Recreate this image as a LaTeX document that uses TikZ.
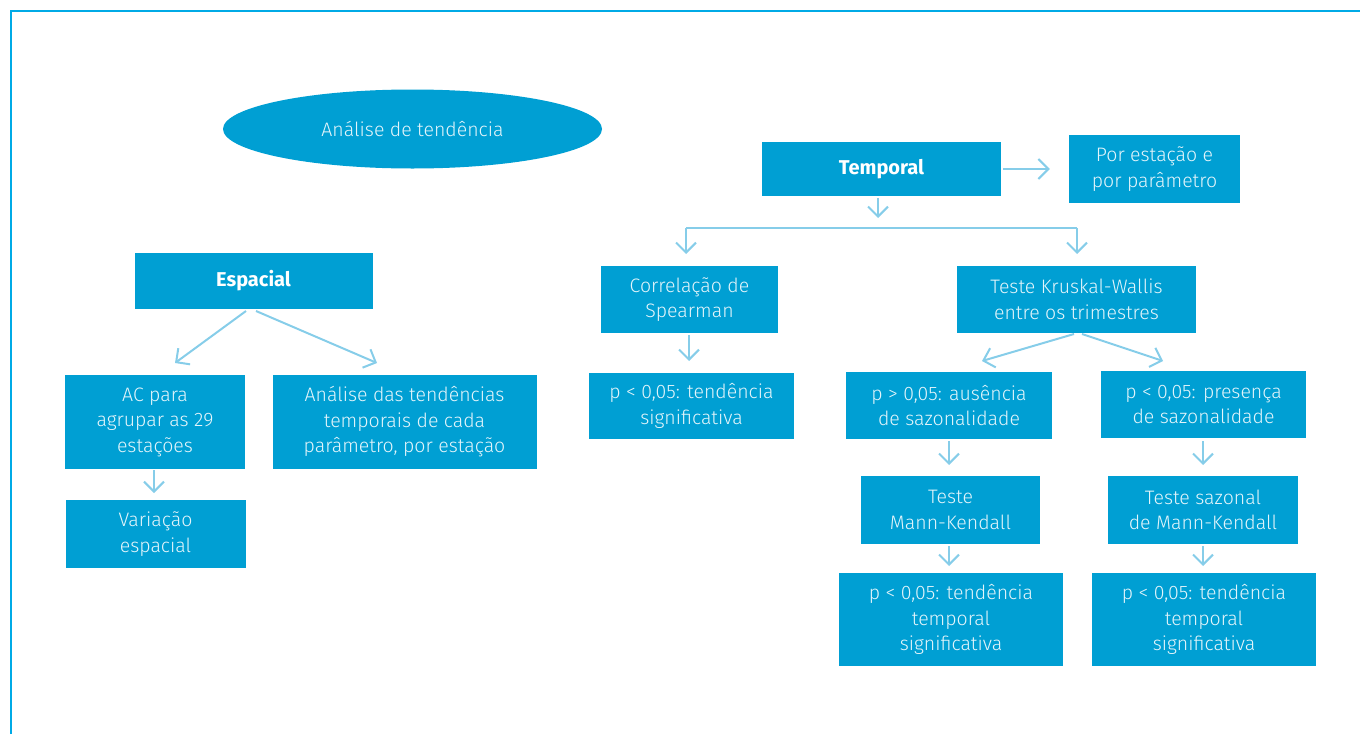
\documentclass[tikz,border=0pt]{standalone}
\usepackage{fontspec}
\setmainfont{Fira Sans}[UprightFont=* Light, BoldFont=* Bold]
\usetikzlibrary{arrows.meta,shapes.geometric}
\definecolor{boxblue}{HTML}{009FD3}
\definecolor{txtc}{HTML}{E4F5FB}
\definecolor{arrowblue}{HTML}{86CDE9}
\definecolor{framec}{HTML}{00AAE6}
\newcommand{\bxfont}{\fontsize{19.5pt}{25.5pt}\selectfont}
\newcommand{\bdfont}{\fontsize{20pt}{25.5pt}\selectfont\bfseries}
\tikzset{
  box/.style={fill=boxblue, text=txtc, align=center, inner sep=0pt, font=\bxfont, draw=none},
  boldbox/.style={box, text=white, font=\bdfont},
  conn/.style={draw=arrowblue, line width=2pt, -{Straight Barb[length=10pt,width=20pt]}},
  plain/.style={draw=arrowblue, line width=2pt},
  frameline/.style={draw=framec, line width=2pt}
}
\begin{document}
\begin{tikzpicture}[x=1pt,y=-1pt]
\useasboundingbox (0,0) rectangle (1360,734);
\draw[frameline] (10.5,734) -- (10.5,11) -- (1360,11);

\node[ellipse, fill=boxblue, text=txtc, font=\bxfont, minimum width=379pt, minimum height=79pt, inner sep=0pt] (root) at (412.5,129) {Análise de tendência};

\node[boldbox, minimum width=239pt, minimum height=54pt] (temp) at (881.5,169) {Temporal};
\node[box, minimum width=171pt, minimum height=68pt] (porest) at (1154.5,169) {Por estação e\\por parâmetro};
\node[box, minimum width=177pt, minimum height=67pt] (corr) at (689.5,299.5) {Correlação de\\Spearman};
\node[box, minimum width=239pt, minimum height=67pt] (krus) at (1076.5,299.5) {Teste Kruskal-Wallis\\entre os trimestres};
\node[box, minimum width=205pt, minimum height=66pt] (psig) at (691.5,406) {p < 0,05: tendência\\significativa};
\node[box, minimum width=206pt, minimum height=67pt] (paus) at (949,405.5) {p > 0,05: ausência\\de sazonalidade};
\node[box, minimum width=205pt, minimum height=67pt] (ppres) at (1203.5,404.5) {p < 0,05: presença\\de sazonalidade};
\node[box, minimum width=179pt, minimum height=68pt] (mk) at (950.5,510) {Teste\\Mann-Kendall};
\node[box, minimum width=190pt, minimum height=68pt] (smk) at (1203,510) {Teste sazonal\\de Mann-Kendall};
\node[box, minimum width=224pt, minimum height=93pt] (r1) at (951,619.5) {p < 0,05: tendência\\temporal\\significativa};
\node[box, minimum width=224pt, minimum height=93pt] (r2) at (1204,619.5) {p < 0,05: tendência\\temporal\\significativa};

\node[boldbox, minimum width=238pt, minimum height=56pt] (esp) at (253.5,281) {Espacial};
\node[box, minimum width=180pt, minimum height=94pt] (ac) at (155,422) {AC para\\agrupar as 29\\estações};
\node[box, minimum width=264pt, minimum height=94pt] (ana) at (404.5,422) {Análise das tendências\\temporais de cada\\parâmetro, por estação};
\node[box, minimum width=180pt, minimum height=68pt] (var) at (155.5,534) {Variação\\espacial};

% connectors
\draw[conn] (temp.east) ++(2,0) -- ([xshift=-19pt]porest.west);
\coordinate (tb) at (878,198);
\draw[conn] (tb) -- (878,218);
\coordinate (bl) at (686,228);
\coordinate (br) at (1077,228);
\draw[plain, line cap=butt] (bl) -- (br);
\draw[conn] (bl) -- (686,254);
\draw[conn] (br) -- (1077,254);

\coordinate (e1) at (246,311);
\coordinate (e2) at (256,311);
\draw[conn] (e1) -- (175,363);
\draw[conn] (e2) -- (377,363);
\draw[conn] (154,470) -- (154,493);

\draw[conn] (689,335) -- (689,361);

\coordinate (k1) at (1074,334);
\coordinate (k2) at (1082,334);
\draw[conn] (k1) -- (982,361);
\draw[conn] (k2) -- (1163,361);

\draw[conn] (949,441) -- (949,465);
\draw[conn] (1203,441) -- (1203,465);
\draw[conn] (949,546) -- (949,566);
\draw[conn] (1203,546) -- (1203,566);
\end{tikzpicture}
\end{document}
